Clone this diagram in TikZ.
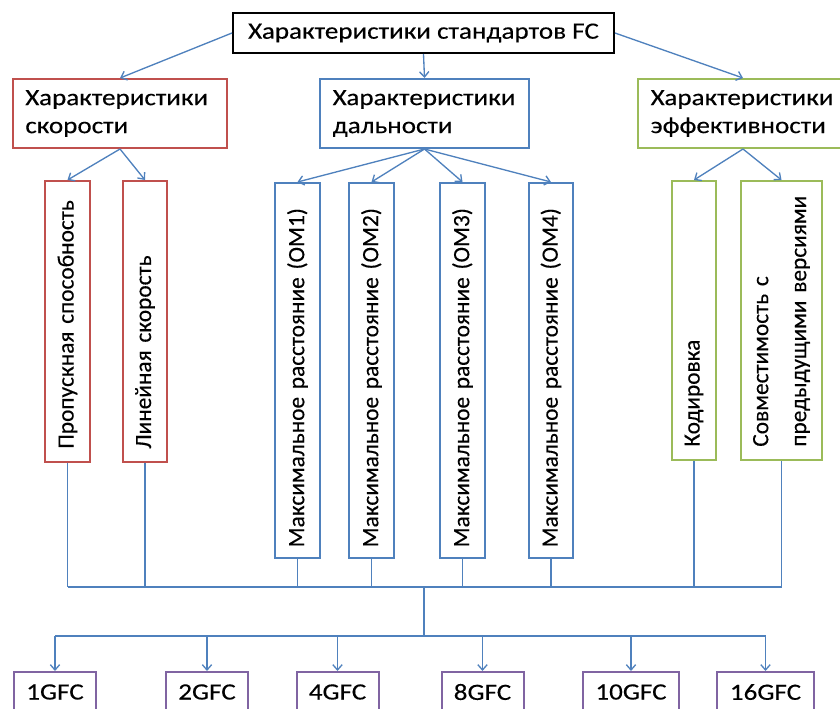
\documentclass[tikz,border=0pt]{standalone}
\usepackage{fontspec}
\setmainfont{Carlito}
\newfontfamily\widefont[FakeStretch=1.16,FakeBold=0.3]{Carlito}
\newfontfamily\upfont[FakeBold=0.3]{Carlito}
\usetikzlibrary{arrows.meta}

\definecolor{lineblue}{RGB}{79,129,189}
\definecolor{boxred}{RGB}{192,80,77}
\definecolor{boxgreen}{RGB}{155,187,89}
\definecolor{boxviolet}{RGB}{128,100,162}

\tikzset{
  box/.style={draw, line width=1.5pt, fill=white, inner sep=0pt,
    font=\widefont\fontsize{17.5}{21}\selectfont},
  headbox/.style={box, align=left, text width=#1, inner xsep=9.5pt},
  upbox/.style={box, rotate=90, align=left, text width=#1, inner xsep=10pt,
    font=\upfont\fontsize{17.5}{28.5}\selectfont},
  link/.style={lineblue, line width=1pt},
  arrow/.style={link, -{Straight Barb[length=4pt,width=7pt]}},
}

\begin{document}
\begin{tikzpicture}[x=0.75pt, y=-0.75pt]
			\useasboundingbox (0,0) rectangle (840,708);
			%%%%%%%%%%%%%%%%%%%%%%%%%%%%%%%%
			\node[box, minimum width=285.75pt, minimum height=30pt] (top) at (423.5,33) {Характеристики стандартов FC};
			\node[headbox=142pt, draw=boxred, minimum height=51.75pt] (speed) at (120,113.5) {Характеристики\\скорости};
			\node[headbox=137.75pt, draw=lineblue, minimum height=51.75pt] (range) at (424.5,113.5) {Характеристики\\дальности};
			\node[headbox=138.5pt, draw=boxgreen, minimum height=51.75pt] (eff) at (743,113.5) {Характеристики\\эффективности};
			\draw[arrow] (top.west) -- (speed.north);
			\draw[arrow] (top.south) -- (range.north);
			\draw[arrow] (top.east) -- (eff.north);
			%%%%%%%%%%%%%%%%%%%%%%%%%%%%%
			\node[upbox=190.75pt, draw=boxred, minimum height=33.75pt] (thru) at (67.5,321.5) {\mbox{Пропускная способность}};
			\node[upbox=190.75pt, draw=boxred, minimum height=33pt] (line) at (145,321.5) {\mbox{Линейная скорость}};
			\node[upbox=265.25pt, draw=lineblue, minimum height=33.75pt, inner xsep=8pt] (om1) at (297.5,370.5) {\mbox{Максимальное расстояние (ОМ1)}};
			\node[upbox=265.25pt, draw=lineblue, minimum height=33.75pt, inner xsep=8pt] (om2) at (371.5,370.5) {\mbox{Максимальное расстояние (ОМ2)}};
			\node[upbox=265.25pt, draw=lineblue, minimum height=33.75pt, inner xsep=8pt] (om3) at (462.5,370.5) {\mbox{Максимальное расстояние (ОМ3)}};
			\node[upbox=265.25pt, draw=lineblue, minimum height=33pt, inner xsep=8pt] (om4) at (551,370.5) {\mbox{Максимальное расстояние (ОМ4)}};
			\node[upbox=189.25pt, draw=boxgreen, minimum height=33pt] (code) at (694,320.5) {\mbox{Кодировка}};
			\node[upbox=189.25pt, draw=boxgreen, minimum height=60.75pt] (compat) at (781.5,320.5) {Совместимость с\\предыдущими версиями};
			\foreach \c in {thru,line} \draw[arrow] (speed.south) -- (\c.east);
			\foreach \c in {om1,om2,om3,om4} \draw[arrow] (range.south) -- (\c.east);
			\foreach \c in {code,compat} \draw[arrow] (eff.south) -- (\c.east);
			%%%%%%%%%%%%%%%%%%%%%%%%%%%%%
			\coordinate (bus) at (424,587);
			\coordinate (split) at (424,636);
			\foreach \c in {thru,line,om1,om2,om3,om4,code,compat}
				\draw[link] (\c.west) -- (\c.west |- bus);
			\draw[link] (thru.west |- bus) -- (compat.west |- bus);
			\draw[link] (bus) -- (split);
			%%%%%%%%%%%%%%%%%%%%%%%%%%%%%
			\node[box, draw=boxviolet, minimum width=61.5pt, minimum height=30pt] (g1) at (55,692) {1GFC};
			\node[box, draw=boxviolet, minimum width=61.5pt, minimum height=30pt] (g2) at (207,692) {2GFC};
			\node[box, draw=boxviolet, minimum width=61.5pt, minimum height=30pt] (g4) at (337.5,692) {4GFC};
			\node[box, draw=boxviolet, minimum width=61.5pt, minimum height=30pt] (g8) at (482.5,692) {8GFC};
			\node[box, draw=boxviolet, minimum width=72pt, minimum height=30pt] (g10) at (631,692) {10GFC};
			\node[box, draw=boxviolet, minimum width=72.75pt, minimum height=30pt] (g16) at (765.5,692) {16GFC};
			\draw[link] (g1.north |- split) -- (g16.north |- split);
			\foreach \g in {g1,g2,g4,g8,g10,g16}
				\draw[arrow] (\g.north |- split) -- (\g.north);
		\end{tikzpicture}
\end{document}
